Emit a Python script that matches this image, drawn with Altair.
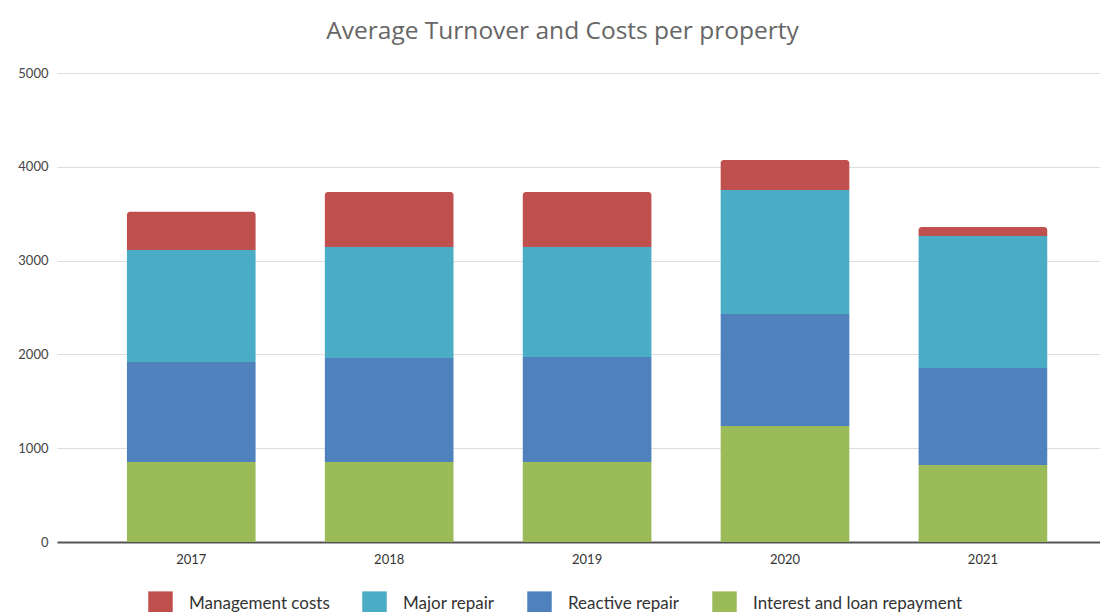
import altair as alt
import pandas as pd

years = ["2017", "2018", "2019", "2020", "2021"]
series = ["Management costs", "Major repair", "Reactive repair", "Interest and loan repayment"]
colors = ["#C0504D", "#4BACC6", "#4F81BD", "#9BBB59"]
interest = [853, 853, 853, 1237, 821]
reactive = [1066, 1109, 1119, 1194, 1034]
major = [1194, 1183, 1173, 1322, 1407]
management = [407, 586, 586, 319, 96]

values = {
    "Management costs": management,
    "Major repair": major,
    "Reactive repair": reactive,
    "Interest and loan repayment": interest,
}
stack_rank = {"Interest and loan repayment": 0, "Reactive repair": 1, "Major repair": 2, "Management costs": 3}
rows = []
for s in series:
    for y, v in zip(years, values[s]):
        rows.append({"year": y, "series": s, "value": v, "rank": stack_rank[s]})
df = pd.DataFrame(rows)

FONT = "Lato"

base = alt.Chart(df).transform_stack(
    stack="value", groupby=["year"], as_=["y0", "y1"], sort=[alt.SortField("rank", order="ascending")]
)

x_enc = alt.X("year:N", title=None, sort=years,
              scale=alt.Scale(paddingInner=0.35, paddingOuter=0.31, align=0.57),
              axis=alt.Axis(labelAngle=0, ticks=False, domainColor="#555555", domainWidth=2,
                            labelFont=FONT, labelFontSize=13, labelColor="#333333", labelPadding=11))
y_enc = alt.Y("y0:Q", title=None,
              scale=alt.Scale(domain=[0, 5000], nice=False),
              axis=alt.Axis(values=[0, 1000, 2000, 3000, 4000, 5000], ticks=False, domain=False,
                            format="d", gridColor="#dddddd", gridWidth=1.2, labelFont=FONT,
                            labelFontSize=13, labelColor="#444444", labelPadding=9))
color_enc = alt.Color("series:N", sort=series,
                      scale=alt.Scale(domain=series, range=colors),
                      legend=alt.Legend(title=None, orient="none", direction="horizontal",
                                        legendX=91, legendY=518,
                                        symbolType="square", symbolSize=600, symbolStrokeWidth=0,
                                        labelFont=FONT, labelFontSize=17, labelColor="#333333",
                                        labelLimit=0, labelOffset=16, columnPadding=32))

lower = base.transform_filter(alt.datum.series != "Management costs").mark_bar().encode(
    x=x_enc, y=y_enc, y2="y1:Q", color=color_enc
)
upper = base.transform_filter(alt.datum.series == "Management costs").mark_bar(
    cornerRadiusTopLeft=3, cornerRadiusTopRight=3
).encode(x=x_enc, y=y_enc, y2="y1:Q", color=color_enc)

chart = alt.layer(lower, upper).properties(
    width=1043, height=469,
    autosize=alt.AutoSizeParams(type="none"),
    padding={"left": 49, "top": 65, "right": 0, "bottom": 70},
    title=alt.TitleParams("Average Turnover and Costs per property", font="Open Sans", fontSize=24.5,
                          fontWeight="normal", color="#666666", anchor="middle", offset=23, dx=-16),
).configure_view(stroke=None)

chart.save("out.html", embed_options={"renderer": "svg", "actions": False})
